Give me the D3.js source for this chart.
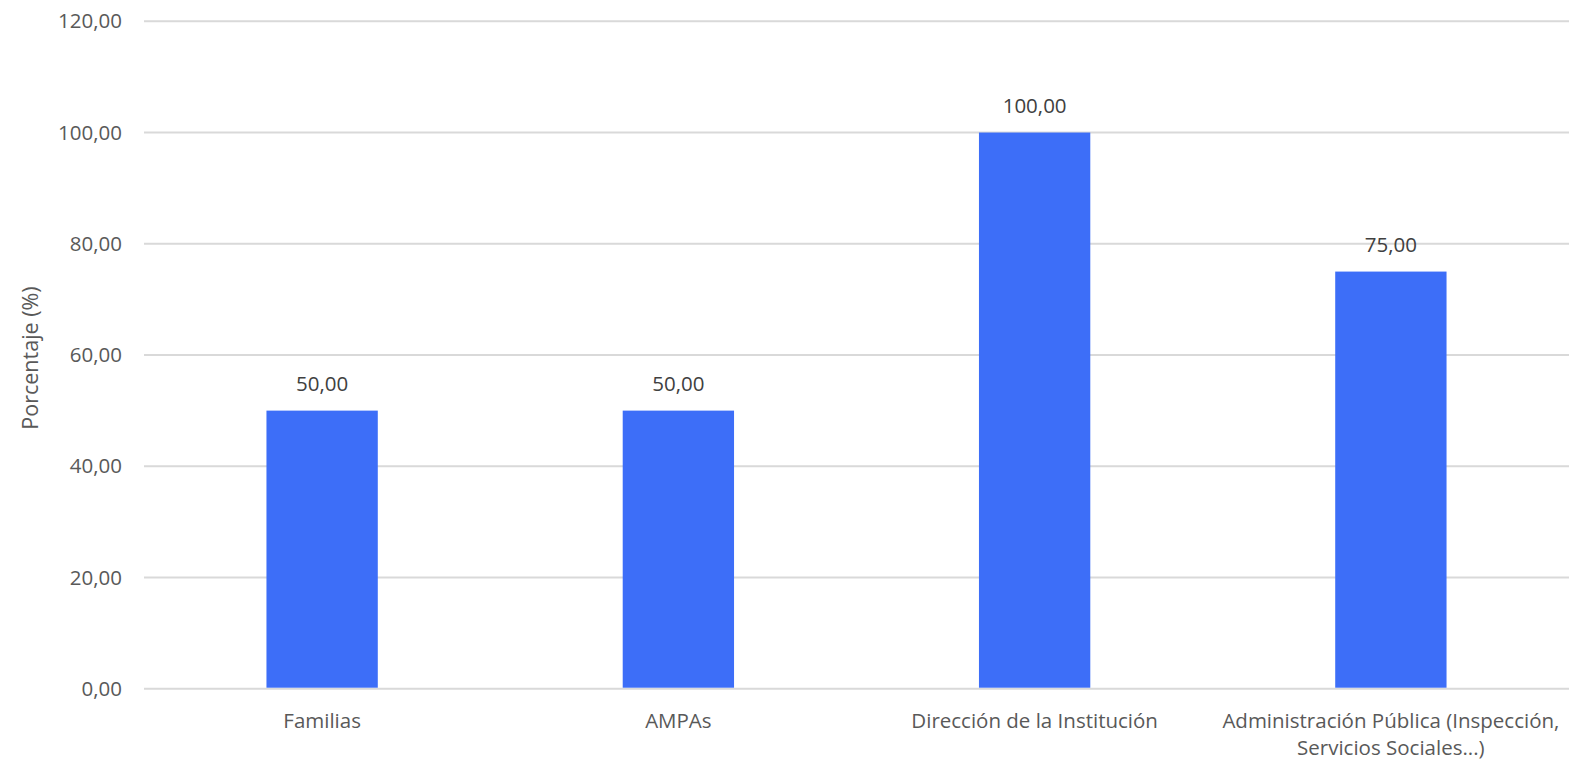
<!DOCTYPE html>
<html><head><meta charset="utf-8">
<script src="https://cdn.jsdelivr.net/npm/d3@7/dist/d3.min.js"></script>
<style>body{margin:0;background:#fff}svg{display:block}text{font-family:"Open Sans",sans-serif}</style>
</head><body><svg id="c" width="1574" height="762"></svg>
<script>
const categories = ["Familias","AMPAs","Dirección de la Institución","Administración Pública (Inspección,|Servicios Sociales...)"];
const values = [50,50,100,75];
const yTicks = [0,20,40,60,80,100,120];
const yTitle = "Porcentaje (%)";

const svg = d3.select("#c");
const L = 144, R = 1569, T = 21.3, B = 688.7;
const FS = "20.5px";
const x = d3.scaleBand().domain(categories).range([L,R]).paddingInner(0.6875).paddingOuter(0.34375);
const y = d3.scaleLinear().domain([0,120]).range([B,T]);
const fmt = v => d3.format(".2f")(v).replace(".",",");

svg.append("g").selectAll("line").data(yTicks).join("line")
  .attr("x1",L).attr("x2",R).attr("y1",d=>y(d)).attr("y2",d=>y(d))
  .attr("stroke","#d9d9d9").attr("stroke-width",2);

const ya = svg.append("g").attr("transform",`translate(${L},0)`)
  .call(d3.axisLeft(y).tickValues(yTicks).tickFormat(fmt).tickSize(0).tickPadding(22));
ya.select(".domain").remove();
ya.selectAll("text").attr("fill","#595959").style("font-size",FS).style("font-family","'Open Sans',sans-serif");

svg.append("g").selectAll("rect").data(values).join("rect")
  .attr("x",(d,i)=>x(categories[i])).attr("width",x.bandwidth())
  .attr("y",d=>y(d)).attr("height",d=>B-y(d)-1).attr("fill","#3d6ef8");

svg.append("g").selectAll("text").data(values).join("text")
  .attr("x",(d,i)=>x(categories[i])+x.bandwidth()/2).attr("y",d=>y(d)-20)
  .attr("text-anchor","middle").attr("fill","#404040").style("font-size",FS).text(fmt);

const xa = svg.append("g").selectAll("text").data(categories).join("text")
  .attr("x",d=>x(d)+x.bandwidth()/2).attr("y",728)
  .attr("text-anchor","middle").attr("fill","#595959").style("font-size",FS);
xa.each(function(d){
  const parts = d.split("|");
  d3.select(this).selectAll("tspan").data(parts).join("tspan")
    .attr("x",x(d)+x.bandwidth()/2).attr("dy",(p,i)=>i?27:0).text(p=>p);
});

svg.append("text").attr("transform",`translate(38,${(T+B)/2+3}) rotate(-90)`)
  .attr("text-anchor","middle").attr("fill","#595959").style("font-size","21.5px").text(yTitle);
</script></body></html>
